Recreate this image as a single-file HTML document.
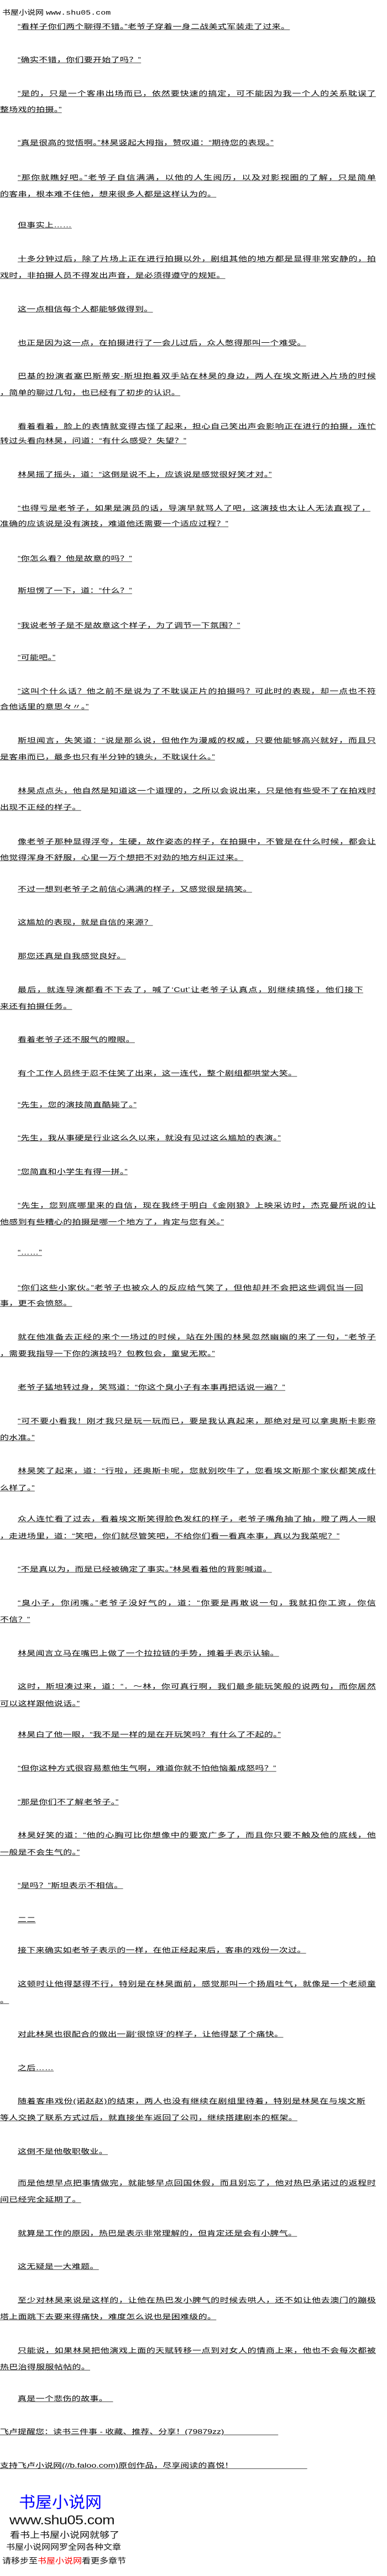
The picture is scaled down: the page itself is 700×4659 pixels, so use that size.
<!DOCTYPE html>
<html lang="zh">
<head>
<meta charset="utf-8">
<style>
html,body{margin:0;padding:0;background:#fff;}
body{width:700px;height:4659px;position:relative;overflow:hidden;font-family:"Liberation Sans","Noto Sans CJK SC",sans-serif;color:#000;}
.l{position:absolute;left:32px;height:30px;line-height:30px;font-size:16px;letter-spacing:0.3px;white-space:nowrap;transform:scaleY(0.75);transform-origin:50% 50%;}
.l span{text-decoration:underline;text-underline-offset:2px;}
.c{left:0;}
.f{width:648px;text-align:justify;text-align-last:justify;}
.f span{display:inline;}
.hd{position:absolute;left:4px;top:9px;font-size:15px;line-height:28px;white-space:nowrap;transform:scaleY(0.8);}
.ft{position:absolute;white-space:nowrap;line-height:1;}
</style>
</head>
<body>
<div class="hd">书屋小说网 <span style="font-family:'Liberation Mono',monospace;">www.shu05.com</span></div>

<div class="l" style="top:34px"><span>“看样子你们两个聊得不错。”老爷子穿着一身二战美式军装走了过来。</span></div>
<div class="l" style="top:94px"><span>“确实不错，你们要开始了吗？”</span></div>
<div class="l f" style="top:155px"><span>“是的，只是一个客串出场而已，依然要快速的搞定，可不能因为我一个人的关系耽误了</span></div>
<div class="l c" style="top:184px"><span>整场戏的拍摄。”</span></div>
<div class="l" style="top:244px"><span>“真是很高的觉悟啊。”林昊竖起大拇指，赞叹道：“期待您的表现。”</span></div>
<div class="l f" style="top:307px"><span>“那你就瞧好吧。”老爷子自信满满，以他的人生阅历，以及对影视圈的了解，只是简单</span></div>
<div class="l c" style="top:337px"><span>的客串，根本难不住他，想来很多人都是这样认为的。</span></div>
<div class="l" style="top:393px"><span>但事实上……</span></div>
<div class="l f" style="top:454px"><span>十多分钟过后，除了片场上正在进行拍摄以外，剧组其他的地方都是显得非常安静的，拍</span></div>
<div class="l c" style="top:484px"><span>戏时，非拍摄人员不得发出声音，是必须得遵守的规矩。</span></div>
<div class="l" style="top:545px"><span>这一点相信每个人都能够做得到。</span></div>
<div class="l" style="top:606px"><span>也正是因为这一点，在拍摄进行了一会儿过后，众人憋得那叫一个难受。</span></div>
<div class="l f" style="top:666px"><span>巴基的扮演者塞巴斯蒂安·斯坦抱着双手站在林昊的身边，两人在埃文斯进入片场的时候</span></div>
<div class="l c" style="top:696px"><span>，简单的聊过几句，也已经有了初步的认识。</span></div>
<div class="l f" style="top:757px"><span>看着看着，脸上的表情就变得古怪了起来，担心自己笑出声会影响正在进行的拍摄，连忙</span></div>
<div class="l c" style="top:783px"><span>转过头看向林昊，问道：“有什么感受？失望？”</span></div>
<div class="l" style="top:844px"><span>林昊摇了摇头，道：“这倒是说不上，应该说是感觉很好笑才对。”</span></div>
<div class="l f" style="top:905px;width:638px"><span>“也得亏是老爷子，如果是演员的话，导演早就骂人了吧，这演技也太让人无法直视了，</span></div>
<div class="l c" style="top:933px"><span>准确的应该说是没有演技，难道他还需要一个适应过程？”</span></div>
<div class="l" style="top:996px"><span>“你怎么看？他是故意的吗？”</span></div>
<div class="l" style="top:1054px"><span>斯坦愣了一下，道：“什么？”</span></div>
<div class="l" style="top:1117px"><span>“我说老爷子是不是故意这个样子，为了调节一下氛围？”</span></div>
<div class="l" style="top:1175px"><span>“可能吧。”</span></div>
<div class="l f" style="top:1236px"><span>“这叫个什么话？他之前不是说为了不耽误正片的拍摄吗？可此时的表现，却一点也不符</span></div>
<div class="l c" style="top:1264px"><span>合他话里的意思々〃。”</span></div>
<div class="l f" style="top:1325px"><span>斯坦闻言，失笑道：“说是那么说，但他作为漫威的权威，只要他能够高兴就好，而且只</span></div>
<div class="l c" style="top:1355px"><span>是客串而已，最多也只有半分钟的镜头，不耽误什么。”</span></div>
<div class="l f" style="top:1416px"><span>林昊点点头，他自然是知道这一个道理的，之所以会说出来，只是他有些受不了在拍戏时</span></div>
<div class="l c" style="top:1446px"><span>出现不正经的样子。</span></div>
<div class="l f" style="top:1508px"><span>像老爷子那种显得浮夸，生硬，故作姿态的样子，在拍摄中，不管是在什么时候，都会让</span></div>
<div class="l c" style="top:1537px"><span>他觉得浑身不舒服，心里一万个想把不对劲的地方纠正过来。</span></div>
<div class="l" style="top:1594px"><span>不过一想到老爷子之前信心满满的样子，又感觉很是搞笑。</span></div>
<div class="l" style="top:1654px"><span>这尴尬的表现，就是自信的来源？</span></div>
<div class="l" style="top:1715px"><span>那您还真是自我感觉良好。</span></div>
<div class="l f" style="top:1776px;width:625px"><span>最后，就连导演都看不下去了，喊了‘Cut’让老爷子认真点，别继续搞怪，他们接下</span></div>
<div class="l c" style="top:1806px"><span>来还有拍摄任务。</span></div>
<div class="l" style="top:1866px"><span>看着老爷子还不服气的瞪眼。</span></div>
<div class="l" style="top:1927px"><span>有个工作人员终于忍不住笑了出来，这一连代，整个剧组都哄堂大笑。</span></div>
<div class="l" style="top:1984px"><span>“先生，您的演技简直酷毙了。”</span></div>
<div class="l" style="top:2044px"><span>“先生，我从事硬是行业这么久以来，就没有见过这么尴尬的表演。”</span></div>
<div class="l" style="top:2105px"><span>“您简直和小学生有得一拼。”</span></div>
<div class="l f" style="top:2166px"><span>“先生，您到底哪里来的自信，现在我终于明白《金刚狼》上映采访时，杰克曼所说的让</span></div>
<div class="l c" style="top:2196px"><span>他感到有些糟心的拍摄是哪一个地方了，肯定与您有关。”</span></div>
<div class="l" style="top:2251px"><span>“……”</span></div>
<div class="l f" style="top:2315px;width:625px"><span>“你们这些小家伙。”老爷子也被众人的反应给气笑了，但他却并不会把这些调侃当一回</span></div>
<div class="l c" style="top:2343px"><span>事，更不会愤怒。</span></div>
<div class="l f" style="top:2404px"><span>就在他准备去正经的来个一场过的时候，站在外围的林昊忽然幽幽的来了一句，“老爷子</span></div>
<div class="l c" style="top:2434px"><span>，需要我指导一下你的演技吗？包教包会，童叟无欺。”</span></div>
<div class="l" style="top:2495px"><span>老爷子猛地转过身，笑骂道：“你这个臭小子有本事再把话说一遍？”</span></div>
<div class="l f" style="top:2556px"><span>“可不要小看我！刚才我只是玩一玩而已，要是我认真起来，那绝对是可以拿奥斯卡影帝</span></div>
<div class="l c" style="top:2586px"><span>的水准。”</span></div>
<div class="l f" style="top:2646px"><span>林昊笑了起来，道：“行啦，还奥斯卡呢，您就别吹牛了，您看埃文斯那个家伙都笑成什</span></div>
<div class="l c" style="top:2677px"><span>么样了。”</span></div>
<div class="l f" style="top:2733px"><span>众人连忙看了过去，看着埃文斯笑得脸色发红的样子，老爷子嘴角抽了抽，瞪了两人一眼</span></div>
<div class="l c" style="top:2764px"><span>，走进场里，道：“笑吧，你们就尽管笑吧，不给你们看一看真本事，真以为我菜呢？”</span></div>
<div class="l" style="top:2824px"><span>“不是真以为，而是已经被确定了事实。”林昊看着他的背影喊道。</span></div>
<div class="l f" style="top:2885px"><span>“臭小子，你闭嘴。”老爷子没好气的，道：“你要是再敢说一句，我就扣你工资，你信</span></div>
<div class="l c" style="top:2915px"><span>不信？”</span></div>
<div class="l" style="top:2976px"><span>林昊闻言立马在嘴巴上做了一个拉拉链的手势，摊着手表示认输。</span></div>
<div class="l f" style="top:3036px"><span>这时，斯坦凑过来，道：“．～林，你可真行啊，我们最多能玩笑般的说两句，而你居然</span></div>
<div class="l c" style="top:3067px"><span>可以这样跟他说话。”</span></div>
<div class="l" style="top:3123px"><span>林昊白了他一眼，“我不是一样的是在开玩笑吗？有什么了不起的。”</span></div>
<div class="l" style="top:3184px"><span>“但你这种方式很容易惹他生气啊，难道你就不怕他恼羞成怒吗？”</span></div>
<div class="l" style="top:3245px"><span>“那是你们不了解老爷子。”</span></div>
<div class="l f" style="top:3305px"><span>林昊好笑的道：“他的心胸可比你想像中的要宽广多了，而且你只要不触及他的底线，他</span></div>
<div class="l c" style="top:3336px"><span>一般是不会生气的。”</span></div>
<div class="l" style="top:3396px"><span>“是吗？”斯坦表示不相信。</span></div>
<div class="l" style="top:3458px"><span>二二</span></div>
<div class="l" style="top:3513px"><span>接下来确实如老爷子表示的一样，在他正经起来后，客串的戏份一次过。</span></div>
<div class="l f" style="top:3574px"><span>这顿时让他得瑟得不行，特别是在林昊面前，感觉那叫一个扬眉吐气，就像是一个老顽童</span></div>
<div class="l c" style="top:3604px"><span>。</span></div>
<div class="l" style="top:3665px"><span>对此林昊也很配合的做出一副‘很惊讶’的样子，让他得瑟了个痛快。</span></div>
<div class="l" style="top:3726px"><span>之后……</span></div>
<div class="l f" style="top:3786px;width:629px"><span>随着客串戏份(诺赵赵)的结束，两人也没有继续在剧组里待着，特别是林昊在与埃文斯</span></div>
<div class="l c" style="top:3816px"><span>等人交换了联系方式过后，就直接坐车返回了公司，继续搭建剧本的框架。</span></div>
<div class="l" style="top:3877px"><span>这倒不是他敬职敬业。</span></div>
<div class="l f" style="top:3934px"><span>而是他想早点把事情做完，就能够早点回国休假，而且别忘了，他对热巴承诺过的返程时</span></div>
<div class="l c" style="top:3964px"><span>间已经完全延期了。</span></div>
<div class="l" style="top:4025px"><span>就算是工作的原因，热巴是表示非常理解的，但肯定还是会有小脾气。</span></div>
<div class="l" style="top:4085px"><span>这无疑是一大难题。</span></div>
<div class="l f" style="top:4146px"><span>至少对林昊来说是这样的，让他在热巴发小脾气的时候去哄人，还不如让他去澳门的蹦极</span></div>
<div class="l c" style="top:4176px"><span>塔上面跳下去要来得痛快，难度怎么说也是困难级的。</span></div>
<div class="l f" style="top:4237px"><span>只能说，如果林昊把他演戏上面的天赋转移一点到对女人的情商上来，他也不会每次都被</span></div>
<div class="l c" style="top:4267px"><span>热巴治得服服帖帖的。</span></div>
<div class="l" style="top:4324px"><span>真是一个悲伤的故事。&nbsp;&nbsp;</span></div>
<div class="l c" style="top:4384px;letter-spacing:0"><span>飞卢提醒您：读书三件事 - 收藏、推荐、分享！(79879zz)&nbsp;&nbsp;&nbsp;&nbsp;&nbsp;&nbsp;&nbsp;&nbsp;&nbsp;&nbsp;&nbsp;&nbsp;&nbsp;&nbsp;&nbsp;&nbsp;&nbsp;&nbsp;&nbsp;&nbsp;&nbsp;&nbsp;</span></div>
<div class="l c" style="top:4445px;letter-spacing:0"><span>支持飞卢小说网(//b.faloo.com)原创作品，尽享阅读的喜悦！&nbsp;&nbsp;&nbsp;&nbsp;&nbsp;&nbsp;&nbsp;&nbsp;&nbsp;&nbsp;&nbsp;&nbsp;&nbsp;&nbsp;&nbsp;&nbsp;&nbsp;&nbsp;&nbsp;&nbsp;&nbsp;&nbsp;&nbsp;&nbsp;&nbsp;&nbsp;&nbsp;&nbsp;&nbsp;&nbsp;</span></div>

<div class="ft" style="left:34px;top:4512px;font-size:30px;color:#0000ff;transform:scaleY(0.95);">书屋小说网</div>
<div class="ft" style="left:17px;top:4545px;font-size:27px;color:#111;letter-spacing:-0.5px;transform:scaleY(0.85);transform-origin:0 50%;">www.shu05.com</div>
<div class="ft" style="left:18px;top:4576px;font-size:18px;color:#111;transform:scaleY(0.85);">看书上书屋小说网就够了</div>
<div class="ft" style="left:11px;top:4600px;font-size:16px;color:#111;transform:scaleY(0.9);">书屋小说网网罗全网各种文章</div>
<div class="ft" style="left:4px;top:4625px;font-size:16px;color:#111;transform:scaleY(0.9);">请移步至<span style="color:#ff0000;">书屋小说网</span>看更多章节</div>
</body>
</html>
